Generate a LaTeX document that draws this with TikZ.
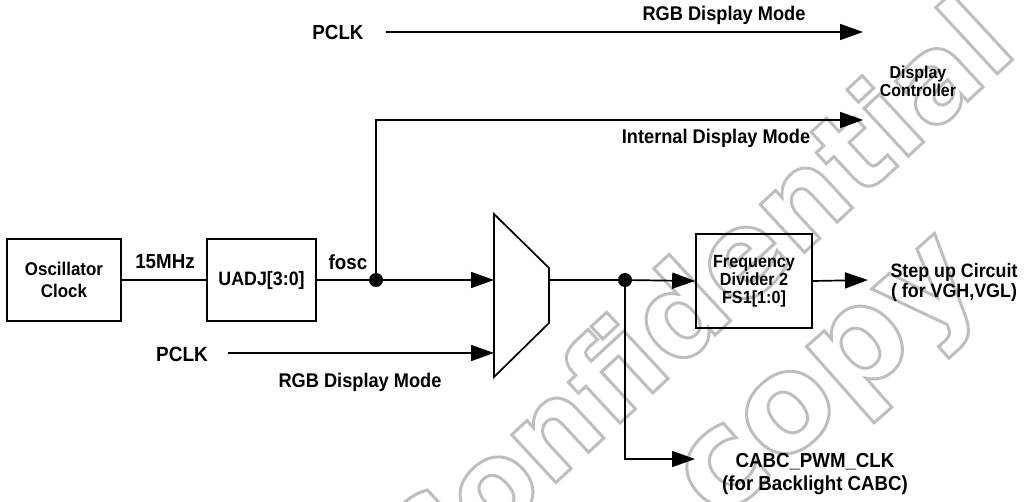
\documentclass[tikz,border=0pt]{standalone}
\usepackage{fontspec}
\setmainfont{Liberation Sans}[FakeStretch=0.92]
\newfontfamily\wmfont{DejaVu Sans}
\usetikzlibrary{arrows.meta}
\definecolor{wmgray}{RGB}{190,190,190}
\newcommand\outlinetext[1]{\special{pdf:literal direct 1 Tr}#1\special{pdf:literal direct 0 Tr}}
\begin{document}
\begin{tikzpicture}[x=1pt,y=-1pt,
  line width=1.7pt,
  lbl/.style 2 args={font=\bfseries\fontsize{#1}{#2}\selectfont, inner sep=0pt, align=center},
  box/.style={draw, line width=1.7pt, inner sep=0pt, align=center},
  arr/.style={-{Triangle[length=23pt,width=16pt]}, line width=1.7pt},
  wire/.style={line width=1.7pt},
  jdot/.style={circle, fill=black, inner sep=0pt, minimum size=14pt},
  wmA/.style={font=\wmfont\bfseries\fontsize{119}{119}\selectfont, inner sep=0pt, rotate=42.8, text=wmgray},
  wmB/.style={font=\wmfont\bfseries\fontsize{135}{135}\selectfont, inner sep=0pt, rotate=41.5, text=wmgray}]
\useasboundingbox (0,0) rectangle (1024,502);

% watermark (outlined letters)
\begin{scope}[line width=3pt]
\clip (0,0) rectangle (1024,502);
\node[wmA] (wm1) at (692,296) {\outlinetext{Confidential}};
\node[wmB] (wm2) at (836,388) {\outlinetext{copy}};
\end{scope}

% blocks
\node[box, minimum width=114pt, minimum height=82pt, lbl={18.4}{22}] (osc) at (64,280) {Oscillator\\Clock};
\node[box, minimum width=109pt, minimum height=82pt, lbl={19.4}{22}] (uadj) at (261.5,280) {UADJ[3:0]};
\node[box, minimum width=116pt, minimum height=94pt, lbl={17.6}{18}] (freq) at (754,281) {Frequency\\Divider 2\\FS1[1:0]};

% mux
\draw[wire] (494,214) -- (549,268) -- (549,323) -- (494,377) -- cycle;
\coordinate (muxin1) at (494,280);
\coordinate (muxin2) at (494,353);
\coordinate (muxout) at (549,280);

% junctions
\node[jdot] (dot1) at (376,280) {};
\node[jdot] (dot2) at (625,280) {};

% labels
\node[lbl={20.4}{22}] (mhz) at (165,262) {15MHz};
\node[lbl={20.4}{22}] (fosc) at (348,262) {fosc};
\node[lbl={20.4}{22}] (pclk1) at (338,32) {PCLK};
\node[lbl={19.8}{20}] (rgb1) at (724,15) {RGB Display Mode};
\node[lbl={17.3}{18}] (dc) at (918,81) {Display\\Controller};
\node[lbl={19.8}{20}] (idm) at (716,138) {Internal Display Mode};
\node[lbl={20.6}{22}] (pclk2) at (182,354) {PCLK};
\node[lbl={19.8}{20}] (rgb2) at (360,382) {RGB Display Mode};
\node[lbl={19.4}{20}] (step) at (954,282) {Step up Circuit\\( for VGH,VGL)};
\node[lbl={20.3}{23}] (cabc) at (815,474) {CABC\_PWM\_CLK\\(for Backlight CABC)};

% connector end points
\coordinate (p1start) at (386,32);
\coordinate (dctop) at (863,32);
\coordinate (intcorner) at (376,120);
\coordinate (dcint) at (863,120);
\coordinate (p2start) at (228,353);
\coordinate (stepin) at (868,280);
\coordinate (cabccorner) at (625,459);
\coordinate (cabcin) at (695,459);

% connectors
\draw[wire] (osc.east) -- (uadj.west);
\draw[wire] (uadj.east) -- (dot1.center);
\draw[arr] (dot1.center) -- (muxin1);
\draw[arr] (dot1.center) -- (intcorner) -- (dcint);
\draw[arr] (p1start) -- (dctop);
\draw[arr] (p2start) -- (muxin2);
\draw[wire] (muxout) -- (dot2.center);
\draw[arr] (dot2.center) -- (freq.west);
\draw[arr] (freq.east) -- (stepin);
\draw[arr] (dot2.center) -- (cabccorner) -- (cabcin);
\end{tikzpicture}
\end{document}
